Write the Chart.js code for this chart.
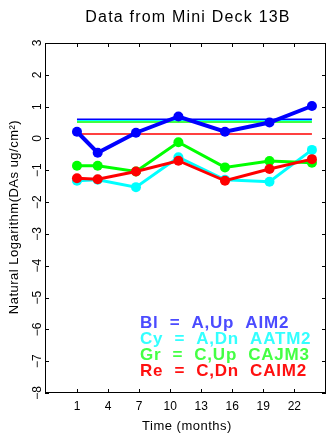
<!DOCTYPE html>
<html>
<head>
<meta charset="utf-8">
<script src="https://cdn.jsdelivr.net/npm/chart.js@4"></script>
<style>
  html, body { margin: 0; padding: 0; background: #fff; }
  #wrap { width: 331px; height: 437px; }
</style>
</head>
<body>
<div id="wrap"><canvas id="grafico" width="331" height="437"></canvas></div>
<script>
(function() {
/* ---------- Dados ---------- */
const meses = [1, 3, 6.7, 10.8, 15.3, 19.6, 23.7];
const azul = [0.21, -0.45, 0.18, 0.69, 0.21, 0.50, 1.02];
const ciano = [-1.33, -1.30, -1.53, -0.59, -1.30, -1.36, -0.36];
const verde = [-0.86, -0.86, -1.04, -0.12, -0.91, -0.71, -0.76];
const vermelho = [-1.25, -1.28, -1.04, -0.70, -1.33, -0.96, -0.65];
// linhas horizontais de referência
const refAzul = 0.60, refCiano = 0.57, refVerde = 0.52, refVermelho = 0.14;
const xTicks = [1, 4, 7, 10, 13, 16, 19, 22];
const yTicks = [3, 2, 1, 0, -1, -2, -3, -4, -5, -6, -7, -8];
const legenda = [
  { txt: 'Bl  =  A,Up  AIM2', cor: '#4b4bff' },
  { txt: 'Cy  =  A,Dn  AATM2', cor: '#33ffff' },
  { txt: 'Gr  =  C,Up  CAJM3', cor: '#44ff44' },
  { txt: 'Re  =  C,Dn  CAIM2', cor: '#ff1010' }
];

/* ---------- Helpers ---------- */
function pontos(ys) { return meses.map((m, i) => ({ x: m, y: ys[i] })); }
function linhaRef(v) { return [{ x: meses[0], y: v }, { x: meses[meses.length - 1], y: v }]; }
function serie(ys, cor, ordem, largura) {
  return { data: pontos(ys), borderColor: cor, backgroundColor: cor, borderWidth: largura,
    pointRadius: 5, pointHoverRadius: 5, pointBorderWidth: 0, order: ordem };
}
function ref(v, cor, ordem) {
  return { data: linhaRef(v), borderColor: cor, borderWidth: 1.5, pointRadius: 0, order: ordem };
}

/* ---------- Plugin: textos e ticks ---------- */
const extras = {
  id: 'extras',
  afterDraw(chart) {
    const c = chart.ctx, a = chart.chartArea;
    const sx = chart.scales.x, sy = chart.scales.y;
    c.save();
    // moldura
    c.strokeStyle = '#000'; c.lineWidth = 1;
    c.strokeRect(a.left + 0.5, a.top + 0.5, a.right - a.left - 1, a.bottom - a.top - 1);
    // ticks internos
    c.beginPath();
    xTicks.forEach(t => {
      const x = Math.round(sx.getPixelForValue(t)) + 0.5;
      c.moveTo(x, a.bottom); c.lineTo(x, a.bottom - 4);
      c.moveTo(x, a.top); c.lineTo(x, a.top + 4);
    });
    yTicks.forEach(t => {
      const y = Math.round(sy.getPixelForValue(t)) + 0.5;
      c.moveTo(a.left, y); c.lineTo(a.left + 4, y);
      c.moveTo(a.right, y); c.lineTo(a.right - 4, y);
    });
    c.stroke();
    c.fillStyle = '#000';
    // rótulos x
    c.font = '12px "Liberation Sans"';
    c.textAlign = 'center'; c.textBaseline = 'middle';
    xTicks.forEach(t => c.fillText(String(t), sx.getPixelForValue(t), 407));
    // rótulos y (rotacionados)
    yTicks.forEach(t => {
      c.save();
      c.translate(38, sy.getPixelForValue(t));
      c.rotate(-Math.PI / 2);
      c.fillText(String(t).replace('-', '\u2212'), 0, 0);
      c.restore();
    });
    // título e eixos
    c.font = '16px "Liberation Sans"';
    c.letterSpacing = '1.2px';
    c.fillText('Data from Mini Deck 13B', 188, 18);
    c.font = '13px "Liberation Sans"';
    c.letterSpacing = '0.5px';
    c.fillText('Time (months)', 187, 426);
    c.save();
    c.translate(14, 217);
    c.rotate(-Math.PI / 2);
    c.fillText('Natural Logarithm(DAs ug/cm\u00b2)', 0, 0);
    c.restore();
    // legenda
    c.font = 'bold 17px "Liberation Sans"';
    c.letterSpacing = '0.8px';
    c.textAlign = 'left';
    legenda.forEach((l, i) => {
      c.fillStyle = l.cor;
      c.fillText(l.txt, 140, 323 + i * 16);
    });
    c.restore();
  }
};

/* ---------- Gráfico ---------- */
const ctx = document.getElementById('grafico').getContext('2d');
new Chart(ctx, {
  type: 'line',
  data: {
    datasets: [
      serie(vermelho, '#ff0000', 1, 3),
      serie(verde, '#00ff00', 2, 3),
      serie(ciano, '#00ffff', 3, 3),
      serie(azul, '#0000ff', 4, 4),
      ref(refVermelho, '#ff0000', 8),
      ref(refVerde, '#00ff00', 7),
      ref(refCiano, '#00ffff', 6),
      ref(refAzul, '#0000ff', 5)
    ]
  },
  options: {
    responsive: false,
    animation: false,
    layout: { padding: { top: 43, right: 2, left: 0, bottom: 0 } },
    plugins: { legend: { display: false }, title: { display: false }, tooltip: { enabled: false } },
    elements: { line: { tension: 0 } },
    scales: {
      x: {
        type: 'linear', min: -2.09, max: 25.06,
        grid: { display: false, drawTicks: false },
        border: { display: false },
        ticks: { display: false },
        afterBuildTicks: s => { s.ticks = xTicks.map(v => ({ value: v })); },
        afterFit: s => { s.height = 44; }
      },
      y: {
        min: -8, max: 3,
        grid: { display: false, drawTicks: false },
        border: { display: false },
        ticks: { display: false },
        afterBuildTicks: s => { s.ticks = yTicks.map(v => ({ value: v })); },
        afterFit: s => { s.width = 45; }
      }
    }
  },
  plugins: [extras]
});
})();
</script>
</body>
</html>
